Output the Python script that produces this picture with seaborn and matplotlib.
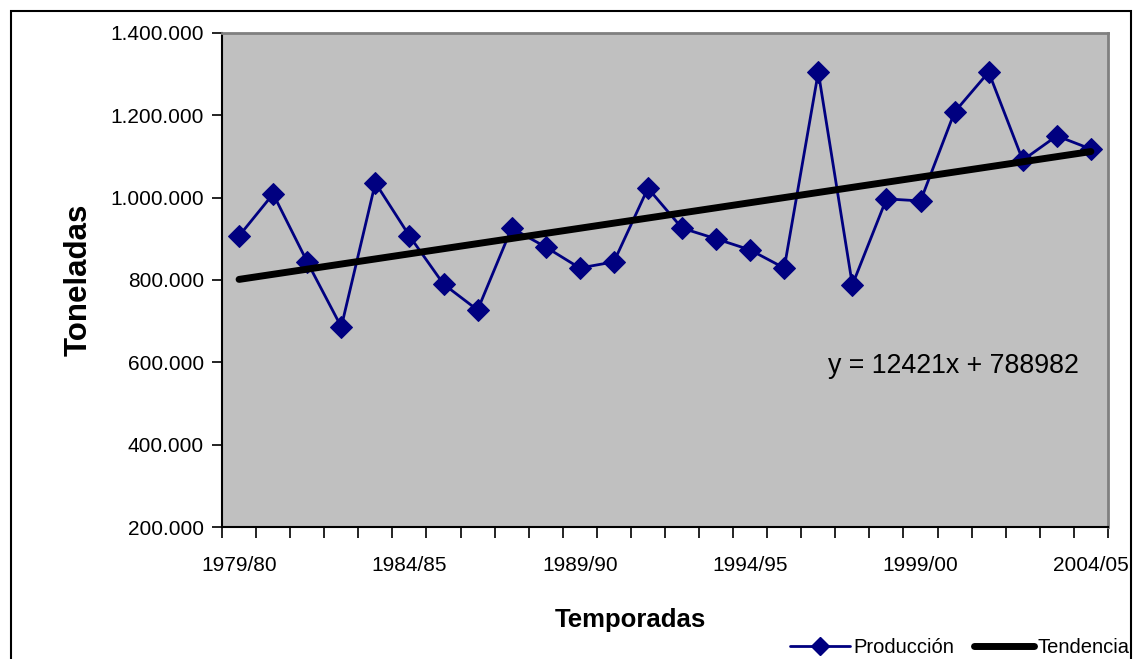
import numpy as np
import pandas as pd
import matplotlib
matplotlib.use("Agg")
import matplotlib.pyplot as plt
import seaborn as sns
from matplotlib.lines import Line2D
from matplotlib.patches import Rectangle

seasons = [f"{y}/{str(y + 1)[-2:]}" for y in range(1979, 2005)]
produccion = [907000, 1009000, 844000, 686000, 1036000, 907000, 790000, 727000,
              926000, 880000, 829000, 844000, 1023000, 926000, 900000, 873000,
              829000, 1305000, 788000, 997000, 992000, 1208000, 1305000, 1091000,
              1150000, 1118000]
trend_slope = 12421
trend_intercept = 788982
y_ticks = [200000, 400000, 600000, 800000, 1000000, 1200000, 1400000]

sns.set_theme(style="white")
plt.rcParams['font.family'] = ['Liberation Sans', 'DejaVu Sans']
plt.rcParams['text.color'] = 'black'
plt.rcParams['xtick.color'] = 'black'
plt.rcParams['ytick.color'] = 'black'

df = pd.DataFrame({"idx": np.arange(len(seasons)), "Temporada": seasons,
                   "Producción": produccion})
df["Tendencia"] = trend_slope * (df["idx"] + 1) + trend_intercept

fig = plt.figure(figsize=(11.34, 6.59), dpi=100)
ax = fig.add_axes([0.1958, 0.2003, 0.977 - 0.1958, 0.95 - 0.2003])
ax.set_facecolor("#C0C0C0")

sns.lineplot(data=df, x="idx", y="Producción", ax=ax, color="#000080",
             marker="D", markersize=11, markeredgecolor="#000080",
             linewidth=2, zorder=3)
sns.lineplot(data=df, x="idx", y="Tendencia", ax=ax, color="black",
             linewidth=5, solid_capstyle="round", zorder=4)

ax.set_xlim(-0.5, len(seasons) - 0.5)
ax.set_ylim(200000, 1400000)
ax.set_yticks(y_ticks)
ax.set_yticklabels([f"{v:,}".replace(",", ".") for v in y_ticks], fontsize=15)

label_pos = list(range(0, len(seasons), 5))
ax.set_xticks(label_pos)
ax.set_xticklabels([seasons[i] for i in label_pos], fontsize=15)
ax.tick_params(axis="x", which="major", length=0, pad=21)
ax.set_xticks(np.arange(-0.5, len(seasons), 1), minor=True)
ax.tick_params(axis="x", which="minor", length=8, width=1.2, color="black",
               direction="out", bottom=True)
ax.tick_params(axis="y", length=7, width=1.2, color="black", direction="out",
               left=True, pad=6)

for s in ["left", "bottom"]:
    ax.spines[s].set_color("black")
    ax.spines[s].set_linewidth(1.5)
for s in ["top", "right"]:
    ax.spines[s].set_color("#808080")
    ax.spines[s].set_linewidth(2)

ax.set_xlabel("")
ax.set_ylabel("")
fig.text(0.069, 0.575, "Toneladas", rotation=90, fontsize=22.5, fontweight="bold",
         ha="center", va="center")
fig.text(0.5555, 0.059, "Temporadas", fontsize=18.5, fontweight="bold",
         ha="center", va="center")

ax.text(0.9515, 0.444, "y = 12421x + 788982", transform=fig.transFigure,
        fontsize=19.3, ha="right", va="center")

handles = [Line2D([], [], color="#000080", marker="D", markersize=9, linewidth=2),
           Line2D([], [], color="black", linewidth=5)]
fig.legend(handles, ["Producción", "Tendencia"], loc="center right",
           bbox_to_anchor=(1.012, 0.017), ncol=2, frameon=False, fontsize=14.5,
           handlelength=3.0, handletextpad=0.15, columnspacing=1.0)

fig.patches.append(Rectangle((11 / 1134, -0.1), (1131 - 11) / 1134, 1.1 - 11 / 659,
                             transform=fig.transFigure, fill=False,
                             edgecolor="black", linewidth=1.5))

fig.savefig("out.png", dpi=100)
